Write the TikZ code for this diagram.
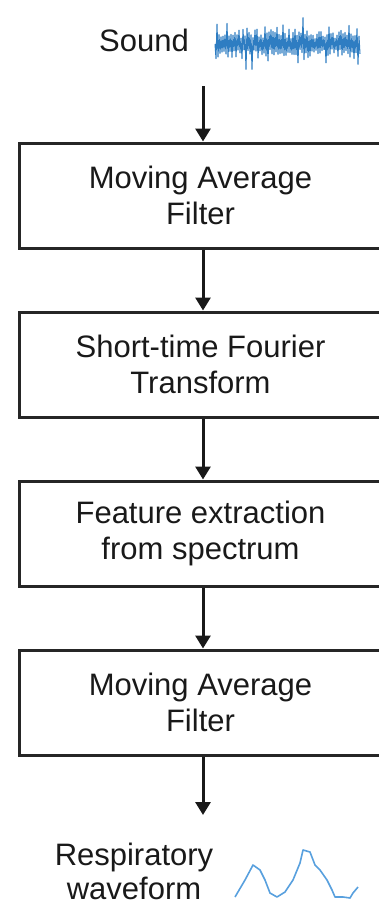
\documentclass[tikz,border=0pt]{standalone}
\usepackage{fontspec}
\setmainfont{Liberation Sans}
\usetikzlibrary{arrows.meta,positioning}

\definecolor{sndblue}{RGB}{46,125,194}
\definecolor{respblue}{RGB}{88,160,222}

\begin{document}
\begin{tikzpicture}[x=1pt,y=-1pt,>={Triangle[width=15pt,length=13pt]},node distance=61pt,semithick]
        \tikzstyle{every node}=[font=\fontsize{31}{36}\selectfont, text=black!90]
        \tikzstyle{block}=[rectangle, draw=black!85, line width=3pt, minimum width=363pt, minimum height=105pt, align=center]
        \tikzstyle{flow}=[->, line width=3pt, draw=black!90]
        \tikzstyle{wave}=[line width=1pt, line join=round]

        \useasboundingbox (0,0) rectangle (379,907);

        \node (sound) at (144,40) {Sound};
        \coordinate (src) at (203,86);
        \node[block] (maf1) at (200.5,195.5) {Moving Average\\Filter};
        \node[block, below=of maf1] (stft) {Short-time Fourier\\Transform};
        \node[block, below=of stft] (feat) {Feature extraction\\from spectrum};
        \node[block, below=of feat] (maf2) {Moving Average\\Filter};
        \coordinate (out) at (203,815);
        \node[align=center, font=\fontsize{31}{34}\selectfont] (resp) at (134,871) {Respiratory\\waveform};

        \draw[flow] (src) -- ([xshift=2.5pt]maf1.north);
        \draw[flow] ([xshift=2.5pt]maf1.south) -- ([xshift=2.5pt]stft.north);
        \draw[flow] ([xshift=2.5pt]stft.south) -- ([xshift=2.5pt]feat.north);
        \draw[flow] ([xshift=2.5pt]feat.south) -- ([xshift=2.5pt]maf2.north);
        \draw[flow] ([xshift=2.5pt]maf2.south) -- (out);

        % sound signal
        \pgfmathsetseed{42}
        \draw[wave, sndblue] (215,44) \foreach \i in {1,...,145}{ -- ({215+\i}, {44+(2*mod(\i,2)-1)*(5+10*rnd+16*(rnd>0.85)*rnd)}) };

        % respiratory signal
        \draw[wave, respblue, line width=1.6pt] (235,897) -- (245,880) -- (253,865) -- (260,870) -- (265,880) -- (270,893) -- (277,897) -- (285,892) -- (293,880) -- (300,863) -- (303,850) -- (310,852) -- (315,865) -- (320,870) -- (327,880) -- (332,890) -- (335,897) -- (343,897) -- (350,898) -- (353,893) -- (358,887);
\end{tikzpicture}
\end{document}
